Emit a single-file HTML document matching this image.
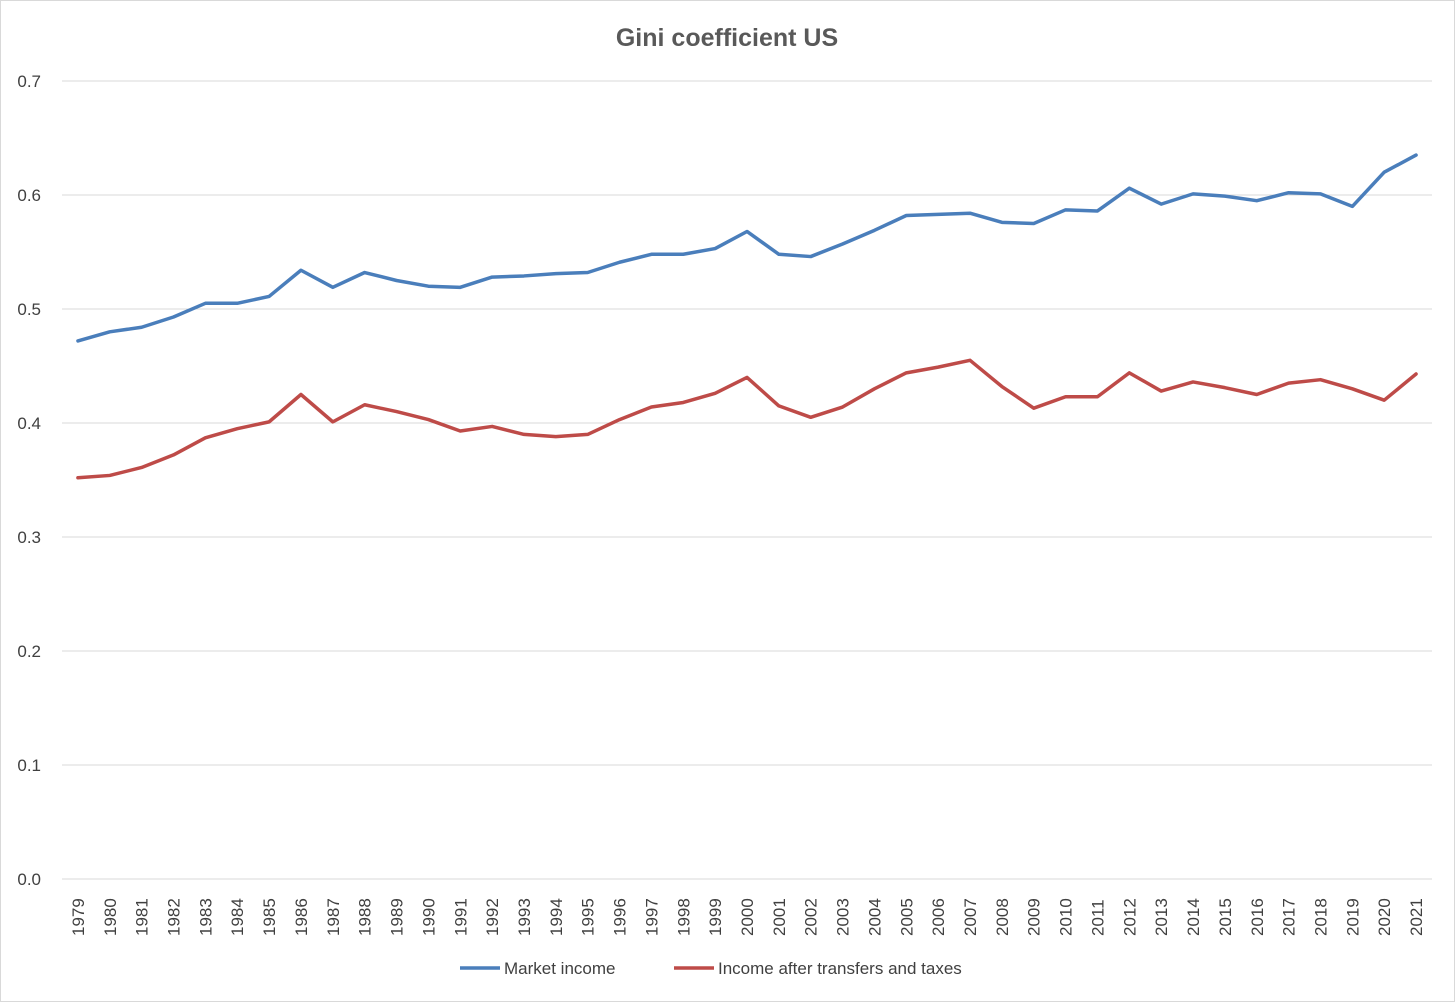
<!DOCTYPE html>
<html><head><meta charset="utf-8"><style>
html,body{margin:0;padding:0;background:#fff}
svg{display:block;font-family:"Liberation Sans",sans-serif}
</style></head><body>
<svg id="chart" width="1456" height="1003">
<rect x="0.5" y="0.5" width="1454" height="1001" fill="#fff" stroke="#d9d9d9"/>
<text x="727" y="46" text-anchor="middle" font-size="25" font-weight="bold" fill="#595959">Gini coefficient US</text>
<g id="grid"></g><g id="yt"></g><g id="xt"></g><g id="series"></g>
<g>
<line x1="460" y1="968" x2="500" y2="968" stroke="#4a7ebb" stroke-width="3.5"/>
<text x="504" y="974" font-size="17" fill="#404040">Market income</text>
<line x1="674" y1="968" x2="714" y2="968" stroke="#be4b48" stroke-width="3.5"/>
<text x="718" y="974" font-size="17" fill="#404040">Income after transfers and taxes</text>
</g>
</svg>
<script>
const years=[];for(let y=1979;y<=2021;y++)years.push(y);
const marketIncome=[0.472,0.480,0.484,0.493,0.505,0.505,0.511,0.534,0.519,0.532,0.525,0.520,0.519,0.528,0.529,0.531,0.532,0.541,0.548,0.548,0.553,0.568,0.548,0.546,0.557,0.569,0.582,0.583,0.584,0.576,0.575,0.587,0.586,0.606,0.592,0.601,0.599,0.595,0.602,0.601,0.590,0.620,0.635];
const afterTaxes=[0.352,0.354,0.361,0.372,0.387,0.395,0.401,0.425,0.401,0.416,0.410,0.403,0.393,0.397,0.390,0.388,0.390,0.403,0.414,0.418,0.426,0.440,0.415,0.405,0.414,0.430,0.444,0.449,0.455,0.432,0.413,0.423,0.423,0.444,0.428,0.436,0.431,0.425,0.435,0.438,0.430,0.420,0.443];
const yTicks=[0,0.1,0.2,0.3,0.4,0.5,0.6,0.7];
const NS="http://www.w3.org/2000/svg";
const X0=62,X1=1432,Y0=879,Y1=81;
const step=(X1-X0)/years.length;
const xs=i=>X0+step*(i+0.5);
const ys=v=>Y0-(v/0.7)*(Y0-Y1);
function mk(t,a,p){const e=document.createElementNS(NS,t);for(const k in a)e.setAttribute(k,a[k]);p.appendChild(e);return e;}
const grid=document.getElementById('grid'),yt=document.getElementById('yt'),xt=document.getElementById('xt'),se=document.getElementById('series');
yTicks.forEach(v=>{
 const l=mk('line',{x1:X0,x2:X1,y1:ys(v),y2:ys(v),stroke:'#d9d9d9','stroke-width':1},grid);
 
 
 const t=mk('text',{x:41,y:ys(v)+6,'text-anchor':'end','font-size':17,fill:'#404040'},yt);
 t.textContent=v.toFixed(1);
 
 
});
years.forEach((y,i)=>{
 const x=xs(i);
 const t=mk('text',{x:0,y:0,transform:`translate(${x+6},${936}) rotate(-90)`,'font-size':17,fill:'#404040'},xt);
 t.textContent=y;
 
 
});
function line(vals,color,name){
 const p=mk('polyline',{points:vals.map((v,i)=>xs(i)+','+ys(v)).join(' '),fill:'none',stroke:color,'stroke-width':3.5,'stroke-linejoin':'round','stroke-linecap':'round'},se);
 
 
}
line(marketIncome,'#4a7ebb','market-income-line');
line(afterTaxes,'#be4b48','income-after-taxes-line');
</script>
</body></html>
